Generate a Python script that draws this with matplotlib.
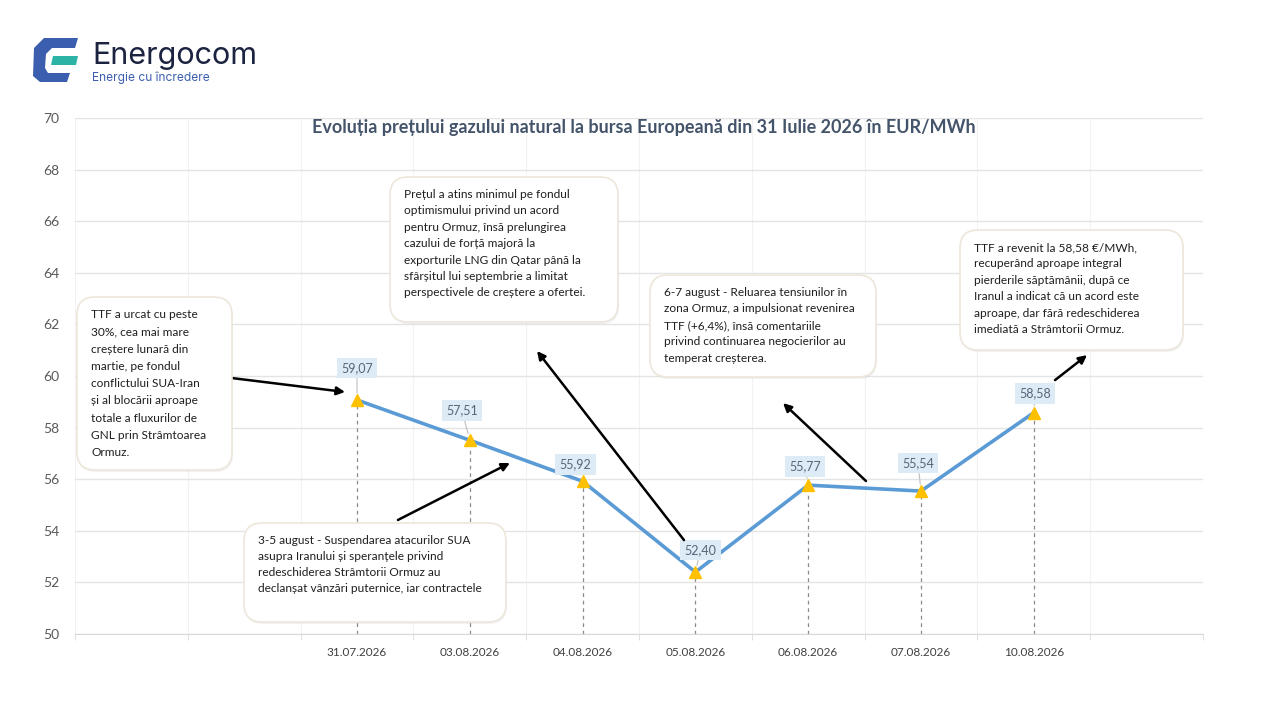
import matplotlib
matplotlib.use('Agg')
import matplotlib.pyplot as plt
from matplotlib.patches import FancyBboxPatch, Polygon
from matplotlib.transforms import IdentityTransform
import numpy as np

# ---------------- data ----------------
dates = ['31.07.2026', '03.08.2026', '04.08.2026', '05.08.2026',
         '06.08.2026', '07.08.2026', '10.08.2026']
prices = [59.07, 57.51, 55.92, 52.40, 55.77, 55.54, 58.58]
price_labels = ['59,07', '57,51', '55,92', '52,40', '55,77', '55,54', '58,58']
y_ticks = [50, 52, 54, 56, 58, 60, 62, 64, 66, 68, 70]
title = 'Evoluția prețului gazului natural la bursa Europeană din 31 Iulie 2026 în EUR/MWh'
notes = [
    'TTF a urcat cu peste\n30%, cea mai mare\ncreștere lunară din\nmartie, pe fondul\nconflictului SUA-Iran\nși al blocării aproape\ntotale a fluxurilor de\nGNL prin Strâmtoarea\nOrmuz.',
    'Prețul a atins minimul pe fondul\noptimismului privind un acord\npentru Ormuz, însă prelungirea\ncazului de forță majoră la\nexporturile LNG din Qatar până la\nsfârșitul lui septembrie a limitat\nperspectivele de creștere a ofertei.',
    '6-7 august - Reluarea tensiunilor în\nzona Ormuz, a impulsionat revenirea\nTTF (+6,4%), însă comentariile\nprivind continuarea negocierilor au\ntemperat creșterea.',
    'TTF a revenit la 58,58 €/MWh,\nrecuperând aproape integral\npierderile săptămânii, după ce\nIranul a indicat că un acord este\naproape, dar fără redeschiderea\nimediată a Strâmtorii Ormuz.',
    '3-5 august - Suspendarea atacurilor SUA\nasupra Iranului și speranțele privind\nredeschiderea Strâmtorii Ormuz au\ndeclanșat vânzări puternice, iar contractele',
]

# ---------------- layout ----------------
W, H = 1280, 720
plt.rcParams['font.family'] = ['Lato', 'DejaVu Sans']
fig = plt.figure(figsize=(W / 100, H / 100), dpi=100)
fig.patch.set_facecolor('white')


def fx(x):
    return x / W


def fy(y):
    return 1 - y / H


AX_L, AX_R, AX_T, AX_B = 75, 1203, 118, 634
ax = fig.add_axes([fx(AX_L), fy(AX_B), (AX_R - AX_L) / W, (AX_B - AX_T) / H])

n_cat = 10
offset = 2
xs = np.arange(len(prices)) + offset
ax.set_xlim(-0.5, n_cat - 0.5)
ax.set_ylim(50, 70)

# grid
ax.set_yticks(y_ticks)
ax.set_xticks(xs)
ax.set_xticklabels(dates)
ax.set_xticks(np.arange(n_cat + 1) - 0.5, minor=True)
ax.grid(which='major', axis='y', color='#E4E4E4', lw=1.0)
ax.grid(which='minor', axis='x', color='#F2F2F2', lw=0.8)
ax.set_axisbelow(True)
for s in ['top', 'right', 'left']:
    ax.spines[s].set_visible(False)
ax.spines['bottom'].set_color('#D9D9D9')
ax.tick_params(axis='y', length=0, pad=11, labelsize=10, labelcolor='#595959')
ax.tick_params(axis='x', which='major', length=0, pad=9, labelsize=8.5, labelcolor='#404040')
ax.tick_params(axis='x', which='minor', length=4, color='#D9D9D9')

# drop lines
ax.vlines(xs, 50, prices, colors='#8C8C8C', linestyles=(0, (3, 3)), lw=0.9, zorder=2)
# series
ax.plot(xs, prices, color='#5B9BD5', lw=2.6, zorder=3, solid_capstyle='round')
ax.plot(xs, prices, ls='none', marker='^', ms=9, mfc='#FFC000', mec='#FFC000', zorder=4)

# data labels
label_offsets = [(0, 32), (-8, 30), (-7, 17), (5, 22), (-3, 19), (-3, 28), (1, 19)]
for x, y, lbl, (dx, dy) in zip(xs, prices, price_labels, label_offsets):
    ax.annotate(lbl, (x, y), xytext=(dx, dy), textcoords='offset pixels',
                ha='center', va='center', fontsize=9, color='#5A6478', zorder=5,
                bbox=dict(boxstyle='square,pad=0.35', fc='#DDEBF7', ec='none'),
                arrowprops=dict(arrowstyle='-', color='#BFBFBF', lw=0.8,
                                shrinkA=0, shrinkB=5))

# arrows (data coordinates)
arrows = [((0.892, 59.92), (1.894, 59.38)),
          ((2.363, 54.42), (3.356, 56.63)),
          ((4.899, 53.64), (3.596, 60.97)),
          ((6.512, 55.93), (5.777, 58.95)),
          ((8.188, 59.84), (8.472, 60.81))]
for start, end in arrows:
    ax.annotate('', xy=end, xytext=start,
                arrowprops=dict(arrowstyle='-|>', color='black', lw=1.8,
                                mutation_scale=12, shrinkA=0, shrinkB=0), zorder=6)

# title
fig.text(fx(644), fy(128), title, ha='center', va='center', fontsize=13,
         weight='bold', color='#44546A')

# note boxes (pixel coordinates, y down)
boxes = [(77, 297, 232, 470), (390, 177, 618, 322), (650, 275, 876, 377),
         (960, 230, 1183, 350), (244, 523, 506, 622)]
spacings = [1.7, 1.6, 1.6, 1.6, 1.56]
T = IdentityTransform()
for (x0, y0, x1, y1), txt, ls in zip(boxes, notes, spacings):
    shadow = FancyBboxPatch((x0 + 1, H - y1 - 2), x1 - x0, y1 - y0,
                            boxstyle='round,pad=0,rounding_size=18',
                            transform=T, fc='#000000', ec='none', alpha=0.05, zorder=7)
    fig.add_artist(shadow)
    box = FancyBboxPatch((x0, H - y1), x1 - x0, y1 - y0,
                         boxstyle='round,pad=0,rounding_size=18',
                         transform=T, fc='white', ec='#EDE6DA', lw=1.2, zorder=8)
    fig.add_artist(box)
    fig.text(fx(x0 + 14), fy(y0 + 12), txt, ha='left', va='top', fontsize=8.6,
             color='#1F1F1F', linespacing=ls, zorder=9)

# logo
blue = Polygon([(44, 38), (78, 38), (75, 48), (52, 48), (46, 54), (45, 68),
                (48, 73), (70, 73), (67, 82), (40, 82), (33, 76), (34, 48)],
               closed=True, transform=T, fc='#3B5FAE', ec='none')
blue.set_xy([(px, H - py) for px, py in blue.get_xy()])
fig.add_artist(blue)
teal = Polygon([(53, 56), (78, 56), (76, 65), (51, 65)], closed=True,
               transform=T, fc='#2DB3A6', ec='none')
teal.set_xy([(px, H - py) for px, py in teal.get_xy()])
fig.add_artist(teal)
fig.text(fx(92), fy(56), 'Energocom', ha='left', va='center', fontsize=22,
         color='#1B2340', family=['Inter', 'DejaVu Sans'])
fig.text(fx(92), fy(78), 'Energie cu încredere', ha='left', va='center', fontsize=8.6,
         color='#3B5FAE', family=['Inter', 'DejaVu Sans'])

fig.savefig('out.png', dpi=100)
